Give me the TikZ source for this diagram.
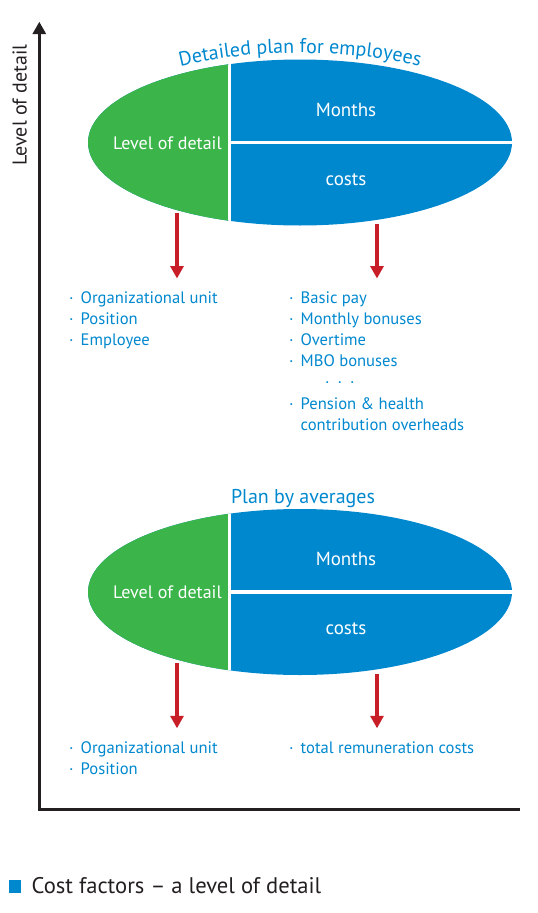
\documentclass[tikz,border=0pt]{standalone}
\usepackage{fontspec}
\setmainfont{PT Sans}
\usetikzlibrary{arrows.meta,decorations.text}
\definecolor{cblue}{RGB}{0,136,207}
\definecolor{cgreen}{RGB}{59,181,74}
\definecolor{cred}{RGB}{200,30,40}
\definecolor{cdark}{RGB}{35,31,32}
\newcommand{\bul}{\makebox[11.5pt][l]{·}}
\tikzset{
  planellipse/.pic={
    \fill[cblue] (0,0) ellipse [x radius=212pt, y radius=83pt];
    \begin{scope}
      \clip (-214pt,-86pt) rectangle (-71pt,86pt);
      \fill[cgreen] (0,0) ellipse [x radius=212pt, y radius=83pt];
    \end{scope}
    \begin{scope}
      \clip (0,0) ellipse [x radius=212pt, y radius=83pt];
      \draw[white, line width=3pt] (-71pt,-90pt) -- (-71pt,90pt);
      \draw[white, line width=3.5pt] (-71pt,0pt) -- (220pt,0pt);
    \end{scope}
    \node[elltext, font=\fontsize{18}{20}\selectfont] (-lvl) at (-132.5pt,-6.8pt) {Level of detail};
    \node[elltext, font=\fontsize{19}{21}\selectfont] (-mon) at (46pt,26.5pt) {Months};
    \node[elltext, font=\fontsize{19}{21}\selectfont] (-cost) at (46pt,-42.5pt) {costs};
  }
}
\begin{document}
\begin{tikzpicture}[x=1pt,y=1pt,
  axisline/.style={cdark, line width=3.3pt, line join=miter},
  redarrow/.style={cred, line width=3.5pt, -{Triangle[width=13pt,length=12.5pt]}},
  elltext/.style={white, anchor=base, inner sep=0pt},
  listitem/.style={cblue, anchor=base west, inner sep=0pt, font=\fontsize{16.6}{20}\selectfont},
  titletext/.style={cblue, anchor=base, inner sep=0pt, font=\fontsize{20}{24}\selectfont}
]
\useasboundingbox (0,0) rectangle (538,-913);

% axes
\coordinate (ytop) at (39.3,-21.7);
\coordinate (orig) at (39.3,-809.3);
\coordinate (xend) at (520,-809.3);
\draw[axisline, {Triangle[width=13pt,length=12.5pt]}-] (ytop) -- (orig) -- (xend);
\node[rotate=90, anchor=base, inner sep=0pt, cdark, font=\fontsize{20}{22}\selectfont] (ylab) at (26.7,-105) {Level of detail};

% upper plan
\path[decorate, decoration={text along path, text align=center,
  text={|\fontsize{20}{24}\selectfont\color{cblue}|Detailed plan for employees}}]
  (123.81,-84.97) arc [start angle=140, end angle=40, x radius=230pt, y radius=89.5pt];
\pic (E1) at (300,-142.5) {planellipse};

\node[listitem] (l1a) at (69,-303) {\bul Organizational unit};
\node[listitem] (l1b) at (69,-324.2) {\bul Position};
\node[listitem] (l1c) at (69,-345.4) {\bul Employee};

\node[listitem] (r1a) at (289,-303) {\bul Basic pay};
\node[listitem] (r1b) at (289,-324.2) {\bul Monthly bonuses};
\node[listitem] (r1c) at (289,-345.4) {\bul Overtime};
\node[listitem] (r1d) at (289,-366.6) {\bul MBO bonuses};
\node[listitem] (r1e) at (325,-387.8) {\makebox[12.5pt][l]{·}\makebox[12.5pt][l]{·}·};
\node[listitem] (r1f) at (289,-409) {\bul Pension \& health};
\node[listitem] (r1g) at (300.5,-430.2) {contribution overheads};

\coordinate (a1s) at (177,-213);
\coordinate (a1e) at (177,-278.5);
\coordinate (a2s) at (377,-224);
\coordinate (a2e) at (377,-278.5);
\draw[redarrow] (a1s) -- (a1e);
\draw[redarrow] (a2s) -- (a2e);

% lower plan
\node[titletext] (t2) at (303,-503) {Plan by averages};
\pic (E2) at (300,-592) {planellipse};

\node[listitem] (l2a) at (69,-753.3) {\bul Organizational unit};
\node[listitem] (l2b) at (69,-774.5) {\bul Position};
\node[listitem] (r2a) at (289,-753.3) {\bul total remuneration costs};

\coordinate (b1s) at (177,-663);
\coordinate (b1e) at (177,-728.3);
\coordinate (b2s) at (377,-674);
\coordinate (b2e) at (377,-728.3);
\draw[redarrow] (b1s) -- (b1e);
\draw[redarrow] (b2s) -- (b2e);

% caption
\node[fill=cblue, minimum size=12.7pt, inner sep=0pt, anchor=south west] (sq) at (8.3,-892.7) {};
\node[cdark, anchor=base west, inner sep=0pt, font=\fontsize{22.6}{26}\selectfont] (cap) at (31.5,-893.3) {Cost factors – a level of detail};
\end{tikzpicture}
\end{document}
